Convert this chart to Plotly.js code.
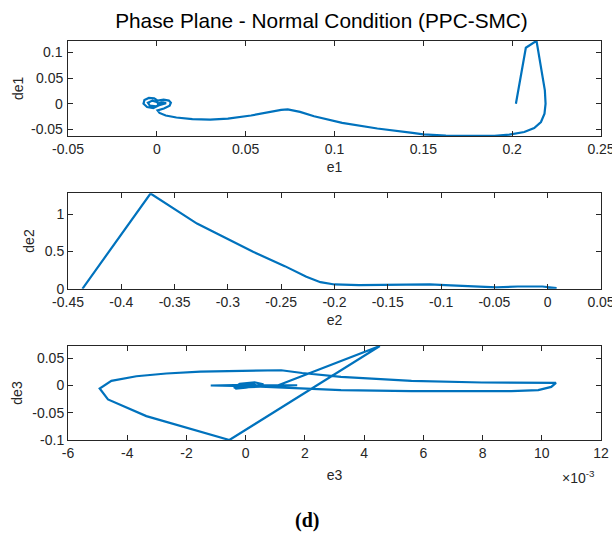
<!DOCTYPE html>
<html>
<head>
<meta charset="utf-8">
<script src="https://cdn.plot.ly/plotly-3.0.1.min.js"></script>
<style>html,body{margin:0;padding:0;background:#fff;}#chart{width:612px;height:552px;}</style>
</head>
<body>
<div id="chart"></div>
<script>
// ---- Subplot 1: e1 vs de1 ----
const e1 = [0.2021, 0.2077, 0.2137, 0.2152, 0.2171, 0.2184, 0.2188, 0.2182, 0.2162, 0.2124, 0.2068, 0.1984, 0.1900, 0.1815, 0.1720, 0.1627, 0.1500, 0.1439, 0.1241, 0.1043, 0.0885, 0.0806, 0.0760, 0.0737, 0.0700, 0.0648, 0.0530, 0.0400, 0.0300, 0.0200, 0.0110, 0.0050, 0.0015, 0.0004,
  0.0040, 0.0072, 0.0079, 0.0068, 0.0038, 0.0005, -0.0015, -0.0045, -0.0070, -0.0075, -0.0055, -0.0020, 0.0008, 0.0004, -0.0025, -0.0050, -0.0040, -0.0005, 0.0030, 0.0052, 0.0030, 0.0004];
const de1 = [0.0000, 0.1090, 0.1226, 0.0908, 0.0584, 0.0259, 0.0000, -0.0195, -0.0358, -0.0475, -0.0553, -0.0604, -0.0625, -0.0630, -0.0628, -0.0623, -0.0598, -0.0568, -0.0484, -0.0374, -0.0245, -0.0161, -0.0120, -0.0110, -0.0122, -0.0155, -0.0230, -0.0290, -0.0310, -0.0300, -0.0270, -0.0230, -0.0180, -0.0130,
  -0.0095, -0.0040, 0.0020, 0.0060, 0.0078, 0.0060, 0.0105, 0.0112, 0.0070, 0.0000, -0.0065, -0.0085, -0.0040, 0.0030, 0.0060, 0.0020, -0.0035, -0.0050, -0.0020, 0.0010, 0.0030, 0.0000];

// ---- Subplot 2: e2 vs de2 ----
const e2 = [-0.4365, -0.3726, -0.3290, -0.3026, -0.2764, -0.2466, -0.2264, -0.2132, -0.2000, -0.1770, -0.1438, -0.1107, -0.0909, -0.0678, -0.0480, -0.0281, -0.0050, 0.0083, 0.0010, 0.0070, 0.0000];
const de2 = [0.000, 1.278, 0.875, 0.688, 0.496, 0.304, 0.161, 0.089, 0.058, 0.049, 0.058, 0.058, 0.045, 0.027, 0.018, 0.031, 0.031, 0.009, 0.004, 0.007, 0.002];

// ---- Subplot 3: e3 (x10^-3) vs de3 ----
const e3 = [1.08, 4.53, -0.55, -3.354, -4.65, -4.93, -4.535, -3.69, -2.68, -1.53, 1.20, 1.91, 3.22, 5.60, 7.98, 10.20, 10.48, 10.32, 9.88, 8.97, 7.98, 5.60, 3.22, 2.03, 1.44,
  0.50, -1.18, 0.00, 1.74, 0.80, -0.40, -0.20, 0.30, 0.60, 0.00, -0.35, -0.10, 0.25, 0.40, 0.00, 0.10, 0.00];
const de3 = [0.0000, 0.0725, -0.1000, -0.0562, -0.0256, -0.0055, 0.0085, 0.0170, 0.0220, 0.0256, 0.0280, 0.0230, 0.0159, 0.0085, 0.0055, 0.0050, 0.0048, -0.0026, -0.0086, -0.0104, -0.0104, -0.0104, -0.0085, -0.0061, -0.0043,
  -0.0020, 0.0000, 0.0010, 0.0005, -0.0010, -0.0040, 0.0030, 0.0060, 0.0020, -0.0040, -0.0060, 0.0020, 0.0040, -0.0020, -0.0020, 0.0010, 0.0000];

// tick labels
const x1Ticks = [-0.05, 0, 0.05, 0.1, 0.15, 0.2, 0.25];
const x1Text = ['-0.05', '0', '0.05', '0.1', '0.15', '0.2', '0.25'];
const y1Ticks = [-0.05, 0, 0.05, 0.1];
const y1Text = ['-0.05', '0', '0.05', '0.1'];
const x2Ticks = [-0.45, -0.4, -0.35, -0.3, -0.25, -0.2, -0.15, -0.1, -0.05, 0, 0.05];
const x2Text = ['-0.45', '-0.4', '-0.35', '-0.3', '-0.25', '-0.2', '-0.15', '-0.1', '-0.05', '0', '0.05'];
const y2Ticks = [0, 0.5, 1];
const y2Text = ['0', '0.5', '1'];
const x3Ticks = [-6, -4, -2, 0, 2, 4, 6, 8, 10, 12];
const x3Text = ['-6', '-4', '-2', '0', '2', '4', '6', '8', '10', '12'];
const y3Ticks = [-0.1, -0.05, 0, 0.05];
const y3Text = ['-0.1', '-0.05', '0', '0.05'];

const lineColor = '#0072BD';
const axCol = '#262626';
const FONT = 'Liberation Sans, Arial, sans-serif';

function trace(x, y, xa, ya) {
  return {x: x, y: y, xaxis: xa, yaxis: ya, type: 'scatter', mode: 'lines',
    line: {color: lineColor, width: 2.2}, showlegend: false};
}

function axis(range, tv, tt, dom, anchor, title, standoff, showLabels) {
  return {range: range, domain: dom, anchor: anchor, tickmode: 'array', tickvals: tv, ticktext: tt,
    ticks: 'inside', ticklen: 5, tickwidth: 1, tickcolor: axCol, showline: true, linecolor: axCol, linewidth: 1,
    mirror: 'ticks', showgrid: false, zeroline: false, ticklabeloverflow: 'allow', showticklabels: showLabels !== false,
    tickfont: {family: FONT, size: 14, color: axCol},
    title: {text: title, font: {family: FONT, size: 14, color: axCol}, standoff: standoff}, automargin: false, fixedrange: true};
}

const data = [trace(e1, de1, 'x', 'y'), trace(e2, de2, 'x2', 'y2'), trace(e3, de3, 'x3', 'y3')];

// de1 tick labels drawn as annotations anchored on the y axis scale (the built-in one dropped "0.05")
const y1LabelAnns = y1Ticks.map(function(v, i) {
  return {text: y1Text[i], xref: 'paper', yref: 'y', x: 0, y: v, xanchor: 'right', yanchor: 'middle',
    xshift: -3, showarrow: false, font: {family: FONT, size: 14, color: axCol}};
});

const layout = {
  width: 612, height: 552,
  margin: {l: 68, r: 11, t: 40, b: 112},
  title: {text: 'Phase Plane - Normal Condition (PPC-SMC)', font: {family: FONT, size: 20.8, color: '#000'},
    x: 0.5253, xanchor: 'center', xref: 'container', y: 0.9625, yanchor: 'middle', yref: 'container'},
  xaxis: axis([-0.05, 0.25], x1Ticks, x1Text, [0, 1], 'y', 'e1', 6),
  yaxis: axis([-0.063, 0.1226], y1Ticks, y1Text, [0.76, 0.998], 'x', '', 6, false),
  xaxis2: axis([-0.45, 0.05], x2Ticks, x2Text, [0, 1], 'y2', 'e2', 6),
  yaxis2: axis([0, 1.282], y2Ticks, y2Text, [0.378, 0.617], 'x2', 'de2', 6),
  xaxis3: axis([-6, 12], x3Ticks, x3Text, [0, 1], 'y3', 'e3', 10),
  yaxis3: axis([-0.1, 0.0725], y3Ticks, y3Text, [0, 0.235], 'x3', 'de3', 6),
  annotations: y1LabelAnns.concat([
    {text: 'de1', xref: 'paper', yref: 'paper', x: -0.0926, y: 0.879, xanchor: 'center', yanchor: 'middle', textangle: -90,
      showarrow: false, font: {family: FONT, size: 14, color: axCol}},
    {text: '×10<sup>-3</sup>', xref: 'paper', yref: 'paper', x: 0.9925, y: -0.0925, xanchor: 'right', yanchor: 'middle',
      showarrow: false, font: {family: FONT, size: 14, color: axCol}},
    {text: '<b>(d)</b>', xref: 'paper', yref: 'paper', x: 0.4484, y: -0.2, xanchor: 'center', yanchor: 'middle',
      showarrow: false, font: {family: 'Liberation Serif, Times New Roman, serif', size: 20, color: '#000'}}
  ])
};

Plotly.newPlot('chart', data, layout, {staticPlot: true});
</script>
</body>
</html>
